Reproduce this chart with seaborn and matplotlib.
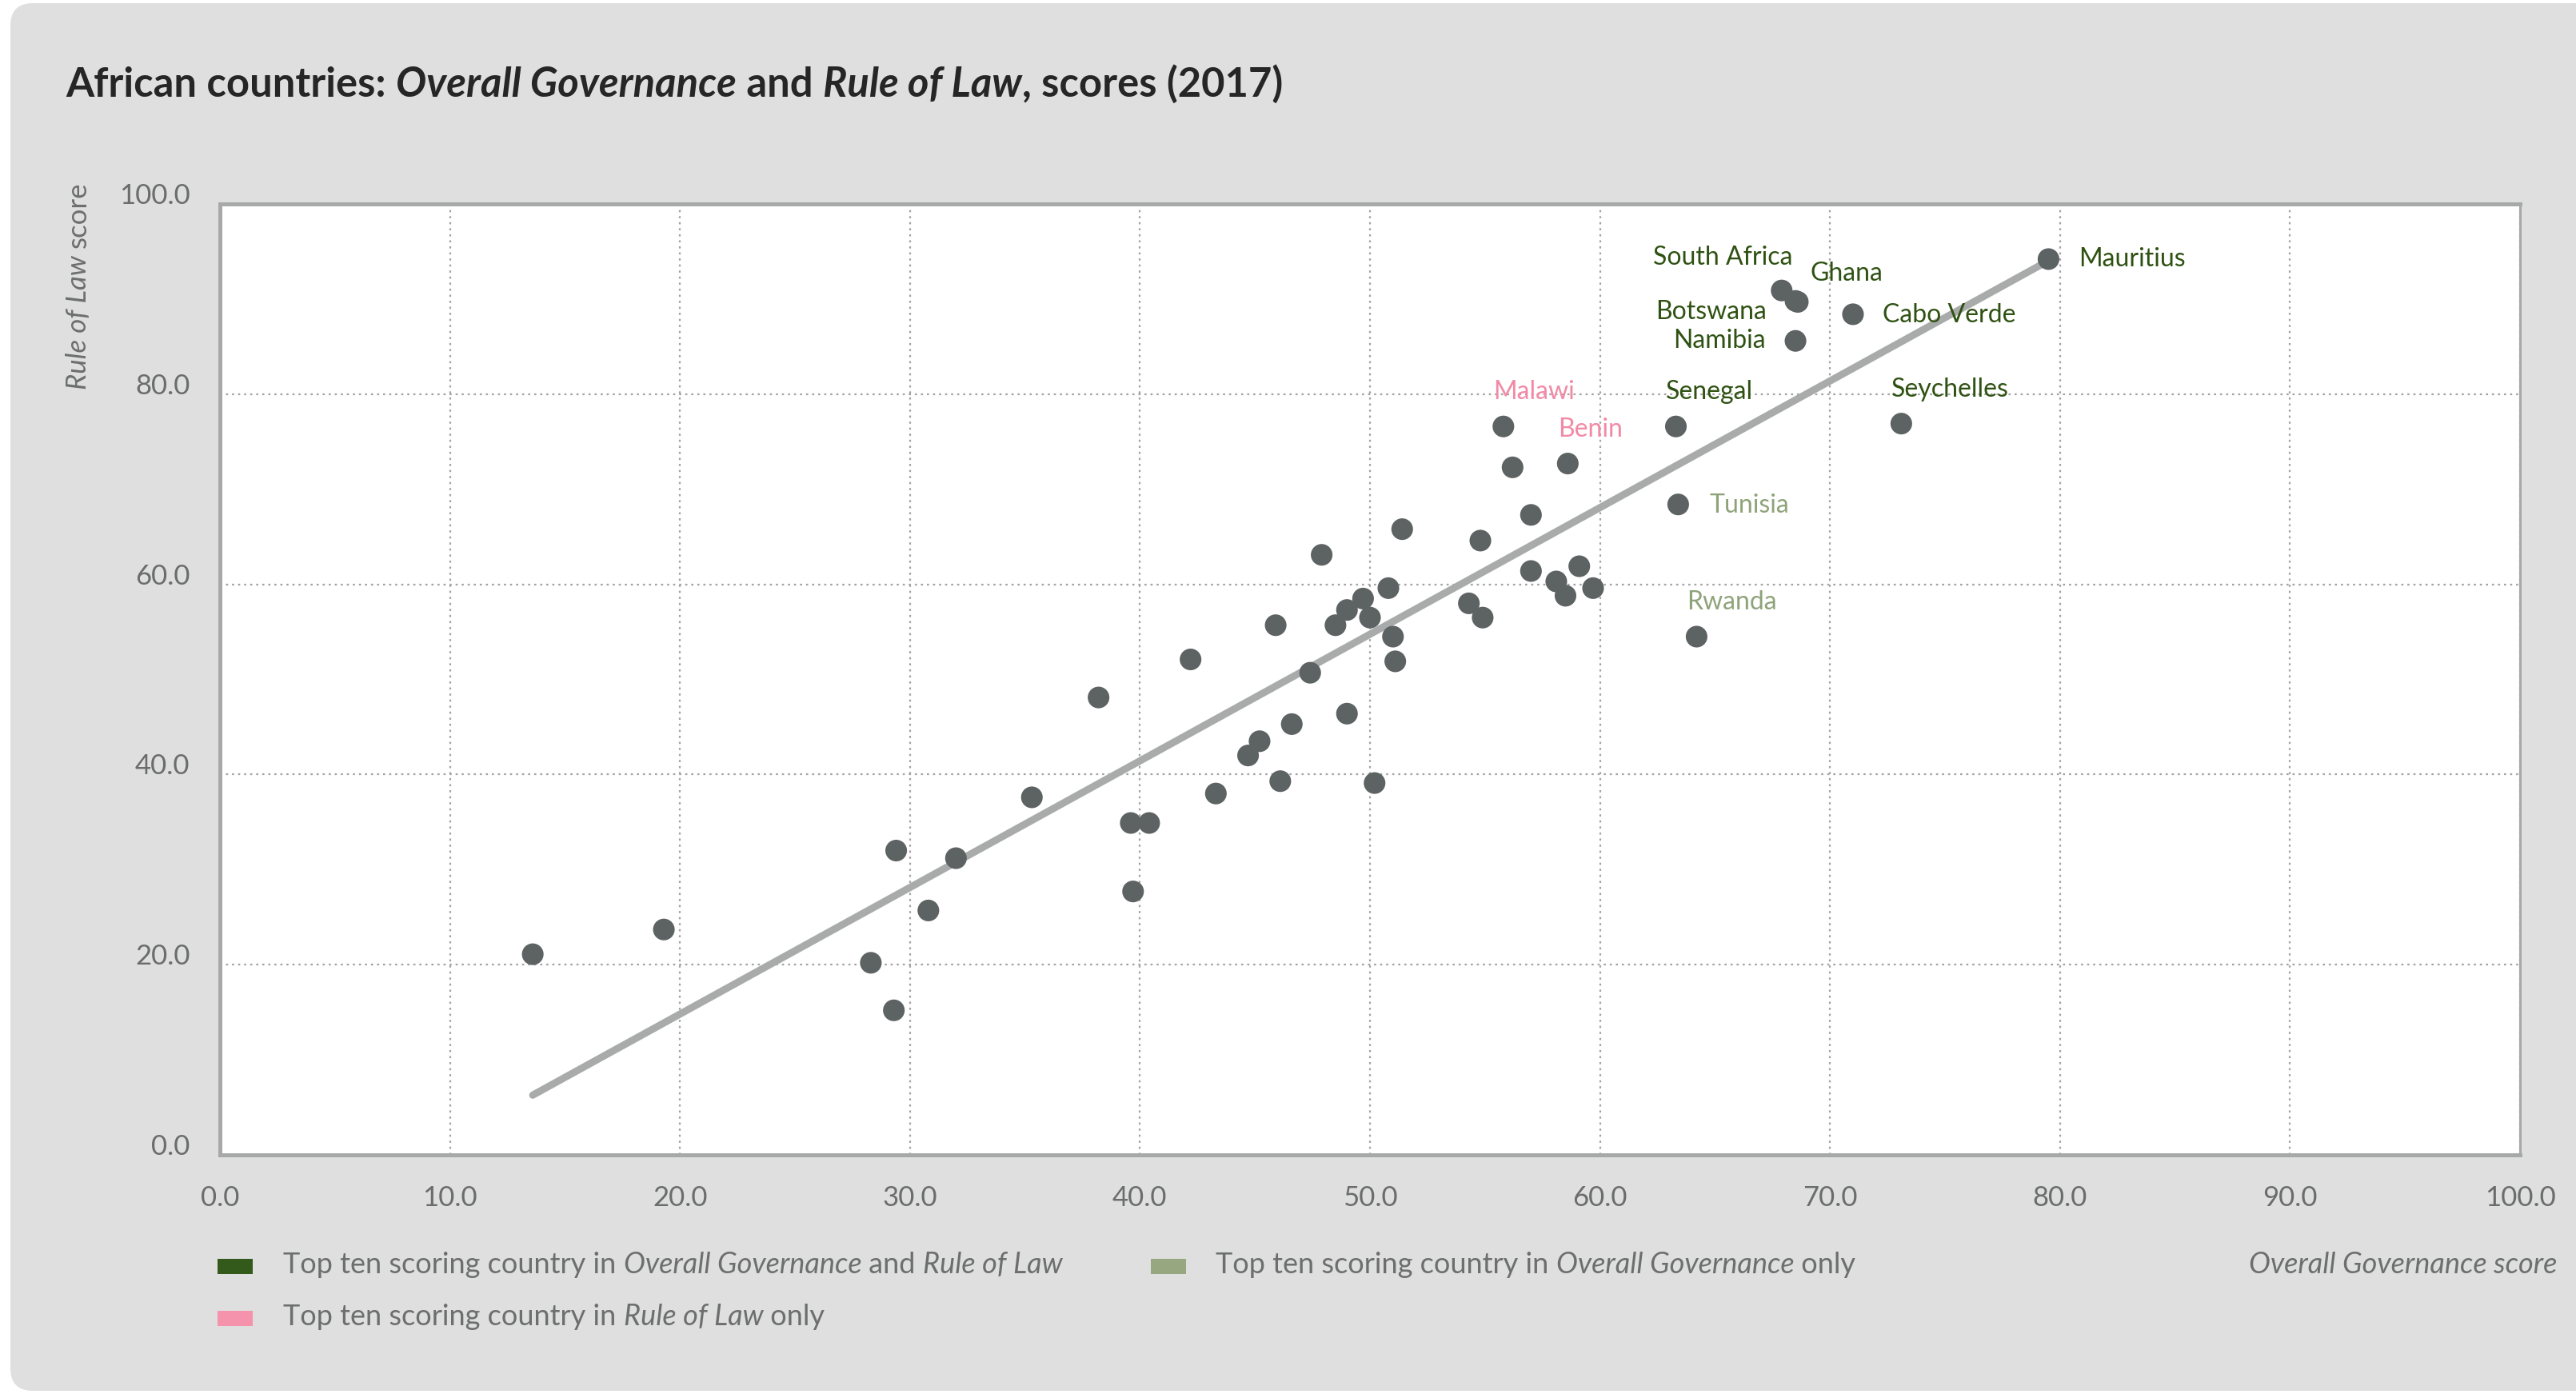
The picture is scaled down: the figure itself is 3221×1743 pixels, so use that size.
import matplotlib
matplotlib.use('Agg')
import matplotlib.pyplot as plt
import matplotlib.transforms as mtransforms
from matplotlib.patches import FancyBboxPatch, Rectangle
import seaborn as sns
import pandas as pd

# countries that are labelled on the chart
labelled_countries = ['Mauritius', 'South Africa', 'Ghana', 'Botswana', 'Namibia', 'Cabo Verde',
                      'Seychelles', 'Senegal', 'Malawi', 'Benin', 'Tunisia', 'Rwanda']
labelled_og = [79.5, 67.9, 68.5, 68.6, 68.5, 71.0, 73.1, 63.3, 55.8, 58.6, 63.4, 64.2]
labelled_rol = [94.2, 90.9, 89.8, 89.7, 85.6, 88.4, 76.9, 76.6, 76.6, 72.7, 68.4, 54.5]
labelled_group = ['both', 'both', 'both', 'both', 'both', 'both',
                  'both', 'both', 'rol', 'rol', 'og', 'og']

# remaining (unlabelled) countries
other_og = [13.6, 19.3, 28.3, 29.3, 29.4, 30.8, 32.0, 35.3, 38.2, 39.6,
            39.7, 40.4, 42.2, 43.3, 44.7, 45.2, 45.9, 46.1, 46.6, 47.4,
            47.9, 48.5, 49.0, 49.0, 49.7, 50.0, 50.2, 50.8, 51.0, 51.1,
            51.4, 54.3, 54.8, 54.9, 56.2, 57.0, 57.0, 58.1, 58.5, 59.1, 59.7]
other_rol = [21.1, 23.7, 20.2, 15.2, 32.0, 25.7, 31.2, 37.6, 48.1, 34.9,
             27.7, 34.9, 52.1, 38.0, 42.0, 43.5, 55.7, 39.3, 45.3, 50.7,
             63.1, 55.7, 57.3, 46.4, 58.5, 56.5, 39.1, 59.6, 54.5, 51.9,
             65.8, 58.0, 64.6, 56.5, 72.3, 67.3, 61.4, 60.3, 58.8, 61.9, 59.6]

x_ticks = [0, 10, 20, 30, 40, 50, 60, 70, 80, 90, 100]
y_ticks = [0, 20, 40, 60, 80, 100]

# label offsets in points: (dx, dy, ha)
label_offsets = {
    'Mauritius': (27, 0, 'left'),
    'South Africa': (10, 30, 'right'),
    'Ghana': (13, 25, 'left'),
    'Botswana': (-28, -9, 'right'),
    'Namibia': (-27, 0, 'right'),
    'Cabo Verde': (27, -1, 'left'),
    'Seychelles': (-9, 31, 'left'),
    'Senegal': (-9, 31, 'left'),
    'Malawi': (-9, 31, 'left'),
    'Benin': (-9, 31, 'left'),
    'Tunisia': (28, -1, 'left'),
    'Rwanda': (-9, 31, 'left'),
}

label_colors = {'both': '#2f5213', 'og': '#8fa37a', 'rol': '#f28aa6'}
legend_colors = {'both': '#335a1a', 'og': '#97a77f', 'rol': '#f493ab'}

df = pd.DataFrame({
    'og': other_og + labelled_og,
    'rol': other_rol + labelled_rol,
})

sns.set_theme(style='white')
plt.rcParams['font.family'] = ['Lato', 'DejaVu Sans']

W, H = 3221, 1743
fig = plt.figure(figsize=(W / 100, H / 100), dpi=100)
fig.patch.set_facecolor('white')
px = mtransforms.IdentityTransform()

# grey rounded panel behind everything
panel = FancyBboxPatch((13, 4), 3400, H - 8, boxstyle='round,pad=0,rounding_size=28',
                       fc='#dedfde', ec='none', transform=px, zorder=-10)
fig.patches.append(panel)

ax = fig.add_axes([275 / W, 1 - 1444 / H, (3151 - 275) / W, (1444 - 255) / H])
ax.set_facecolor('white')

sns.regplot(data=df, x='og', y='rol', scatter=False, ci=None, ax=ax,
            color='#a9abab', line_kws=dict(lw=6.5, solid_capstyle='round', zorder=2))
sns.scatterplot(data=df, x='og', y='rol', ax=ax, s=380, color='#5d6262',
                edgecolor='none', linewidth=0, zorder=3)

ax.set_xlim(0, 100)
ax.set_ylim(0, 100)
ax.set_xticks(x_ticks)
ax.set_yticks(y_ticks)
ax.set_xticklabels([f'{t:.1f}' for t in x_ticks])
ax.set_yticklabels([f'{t:.1f}' for t in y_ticks])
ax.set_xlabel('')
ax.set_ylabel('')
ax.tick_params(axis='both', length=0, labelsize=25, labelcolor='#6b6d6d')
ax.tick_params(axis='x', pad=27)
ax.tick_params(axis='y', pad=27)
for lab in ax.get_yticklabels():
    lab.set_verticalalignment('baseline')

ax.grid(True, color='#a3a3a3', lw=1.6, linestyle=(0, (1.2, 2.2)))
ax.set_axisbelow(True)
for side in ['left', 'right', 'top', 'bottom']:
    ax.spines[side].set_visible(True)
    ax.spines[side].set_color('#a7a9a9')
    ax.spines[side].set_linewidth(3.6)
ax.spines['right'].set_linewidth(2.2)

for name, x, y, grp in zip(labelled_countries, labelled_og, labelled_rol, labelled_group):
    dx, dy, ha = label_offsets[name]
    ax.annotate(name, (x, y), xytext=(dx, dy), textcoords='offset points',
                ha=ha, va='center', fontsize=23, color=label_colors[grp], zorder=4)

renderer = fig.canvas.get_renderer()


def text_width(s, **kw):
    t1 = fig.text(0, 0, s + '|', transform=px, **kw)
    t2 = fig.text(0, 0, '|', transform=px, **kw)
    w = t1.get_window_extent(renderer).width - t2.get_window_extent(renderer).width
    t1.remove()
    t2.remove()
    return w


def rich_text(x, y, parts, **kw):
    for txt, style in parts:
        fig.text(x, y, txt, fontstyle=style, transform=px, ha='left', va='baseline', **kw)
        x += text_width(txt, fontstyle=style, **kw)


# title
rich_text(82, H - 121, [('African countries: ', 'normal'), ('Overall Governance', 'italic'),
                        (' and ', 'normal'), ('Rule of Law', 'italic'),
                        (', scores (2017)', 'normal')],
          fontsize=36.5, fontweight='bold', color='#262626')

# y axis label (rotated, "score" upright, "Rule of Law" italic)
ylab_kw = dict(fontsize=25, color='#6d6f6f')
y_top = H - 228
w_score = text_width('score', **ylab_kw)
w_sp = text_width(' ', **ylab_kw)
fig.text(98, y_top, 'score', rotation=90, ha='center', va='top', transform=px, **ylab_kw)
fig.text(98, y_top - w_score - w_sp, 'Rule of Law', rotation=90, ha='center', va='top',
         fontstyle='italic', transform=px, **ylab_kw)

# legend
leg_kw = dict(fontsize=26, color='#6d6f6f')
fig.patches.append(Rectangle((272, H - 1593), 44, 19, fc=legend_colors['both'], ec='none', transform=px))
rich_text(354, H - 1592, [('Top ten scoring country in ', 'normal'), ('Overall Governance', 'italic'),
                          (' and ', 'normal'), ('Rule of Law', 'italic')], **leg_kw)
fig.patches.append(Rectangle((1439, H - 1593), 44, 19, fc=legend_colors['og'], ec='none', transform=px))
rich_text(1520, H - 1592, [('Top ten scoring country in ', 'normal'), ('Overall Governance', 'italic'),
                           (' only', 'normal')], **leg_kw)
fig.patches.append(Rectangle((272, H - 1658), 44, 19, fc=legend_colors['rol'], ec='none', transform=px))
rich_text(354, H - 1657, [('Top ten scoring country in ', 'normal'), ('Rule of Law', 'italic'),
                          (' only', 'normal')], **leg_kw)

# x axis label on the legend row
fig.text(3197, H - 1592, 'Overall Governance score', fontstyle='italic', ha='right',
         va='baseline', transform=px, **leg_kw)

fig.savefig('out.png', dpi=100, facecolor=fig.get_facecolor())
